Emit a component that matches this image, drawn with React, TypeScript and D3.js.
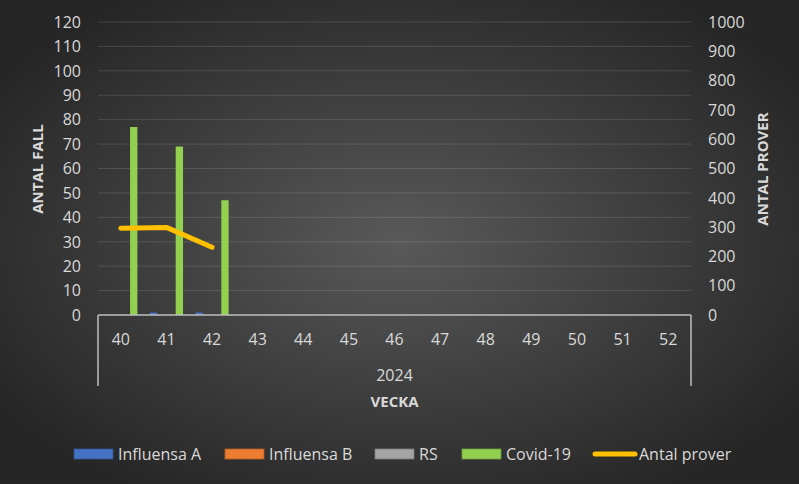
import React from "react";
import * as d3 from "d3";

const weeks = ["40", "41", "42", "43", "44", "45", "46", "47", "48", "49", "50", "51", "52"];
const seriesNames = ["Influensa A", "Influensa B", "RS", "Covid-19"];
const seriesColors = ["#4472C4", "#ED7D31", "#A5A5A5", "#92D050"];
const influensaA = [0, 1, 1];
const influensaB = [0, 0, 0];
const rs = [0, 0, 0];
const covid = [77, 69, 47];
const antalProver = [296, 299, 231];
const leftTicks = [0, 10, 20, 30, 40, 50, 60, 70, 80, 90, 100, 110, 120];
const rightTicks = [0, 100, 200, 300, 400, 500, 600, 700, 800, 900, 1000];

const W = 799;
const H = 484;
const L = 98;
const R = 691;
const T = 22;
const B = 315;

const FONT = "'Open Sans', sans-serif";
const TXT = "#d9d9d9";

export default function App() {
  const x = d3.scaleBand<string>().domain(weeks).range([L, R]).padding(0);
  const inner = d3
    .scaleBand<string>()
    .domain(seriesNames)
    .range([6.2, x.bandwidth() - 6.2])
    .paddingInner(0.15);
  const yL = d3.scaleLinear().domain([0, 120]).range([B, T]);
  const yR = d3.scaleLinear().domain([0, 1000]).range([B, T]);
  const allSeries = [influensaA, influensaB, rs, covid];

  const line = d3
    .line<number>()
    .x((_, i) => (x(weeks[i]) as number) + x.bandwidth() / 2)
    .y((d) => yR(d));

  const legendItems = [
    { name: "Influensa A", color: seriesColors[0], sx: 74, tx: 118, type: "bar" },
    { name: "Influensa B", color: seriesColors[1], sx: 225, tx: 269, type: "bar" },
    { name: "RS", color: seriesColors[2], sx: 375, tx: 419, type: "bar" },
    { name: "Covid-19", color: seriesColors[3], sx: 462, tx: 506, type: "bar" },
    { name: "Antal prover", color: "#FFC000", sx: 593, tx: 639, type: "line" },
  ];

  return (
    <svg
      width={W}
      height={H}
      style={{ position: "absolute", left: 0, top: 0 }}
      fontFamily={FONT}
    >
      <defs>
        <radialGradient id="bg" cx="50%" cy="50%" r="60%">
          <stop offset="0%" stopColor="#595959" />
          <stop offset="100%" stopColor="#262626" />
        </radialGradient>
      </defs>
      <rect x={0} y={0} width={W} height={H} fill="url(#bg)" />

      {/* gridlines */}
      {leftTicks.slice(1).map((t) => (
        <line
          key={t}
          x1={L}
          x2={R}
          y1={yL(t)}
          y2={yL(t)}
          stroke="#ffffff"
          strokeOpacity={0.13}
          strokeWidth={1}
        />
      ))}

      {/* bars */}
      {allSeries.map((vals, si) =>
        vals.map((v, i) =>
          v > 0 ? (
            <rect
              key={`${si}-${i}`}
              x={(x(weeks[i]) as number) + (inner(seriesNames[si]) as number)}
              y={yL(v)}
              width={inner.bandwidth()}
              height={B - yL(v)}
              fill={seriesColors[si]}
            />
          ) : null
        )
      )}

      {/* axis lines */}
      <line x1={L} x2={R} y1={B} y2={B} stroke="#bfbfbf" strokeWidth={1.5} />
      <line x1={L} x2={L} y1={B} y2={386} stroke="#bfbfbf" strokeWidth={1.5} />
      <line x1={R} x2={R} y1={B} y2={386} stroke="#bfbfbf" strokeWidth={1.5} />

      {/* line series */}
      <path
        d={line(antalProver) || ""}
        fill="none"
        stroke="#FFC000"
        strokeWidth={5}
        strokeLinecap="round"
        strokeLinejoin="round"
      />

      {/* left ticks */}
      {leftTicks.map((t) => (
        <text
          key={t}
          x={81}
          y={yL(t)}
          dy="0.36em"
          textAnchor="end"
          fontSize={16}
          fill={TXT}
        >
          {t}
        </text>
      ))}
      {/* right ticks */}
      {rightTicks.map((t) => (
        <text
          key={t}
          x={708}
          y={yR(t)}
          dy="0.36em"
          textAnchor="start"
          fontSize={16}
          fill={TXT}
        >
          {t}
        </text>
      ))}

      {/* week labels */}
      {weeks.map((w) => (
        <text
          key={w}
          x={(x(w) as number) + x.bandwidth() / 2}
          y={345}
          textAnchor="middle"
          fontSize={16}
          fill={TXT}
        >
          {w}
        </text>
      ))}
      <text x={(L + R) / 2} y={381} textAnchor="middle" fontSize={16} fill={TXT}>
        2024
      </text>
      <text
        x={(L + R) / 2}
        y={407}
        textAnchor="middle"
        fontSize={15}
        fontWeight="bold"
        fill={TXT}
      >
        VECKA
      </text>

      {/* axis titles */}
      <text
        transform={`translate(43,169) rotate(-90)`}
        textAnchor="middle"
        fontSize={15}
        fontWeight="bold"
        fill={TXT}
      >
        ANTAL FALL
      </text>
      <text
        transform={`translate(768,169) rotate(-90)`}
        textAnchor="middle"
        fontSize={15}
        fontWeight="bold"
        fill={TXT}
      >
        ANTAL PROVER
      </text>

      {/* legend */}
      {legendItems.map((it) => (
        <g key={it.name}>
          {it.type === "bar" ? (
            <rect
              x={it.sx}
              y={449}
              width={39}
              height={10}
              fill={it.color}
              stroke={d3.color(it.color)!.darker(0.8).toString()}
              strokeWidth={0.8}
            />
          ) : (
            <line
              x1={it.sx + 2}
              x2={it.sx + 42}
              y1={454}
              y2={454}
              stroke={it.color}
              strokeWidth={5}
              strokeLinecap="round"
            />
          )}
          <text x={it.tx} y={460} fontSize={16} fill={TXT}>
            {it.name}
          </text>
        </g>
      ))}
    </svg>
  );
}
